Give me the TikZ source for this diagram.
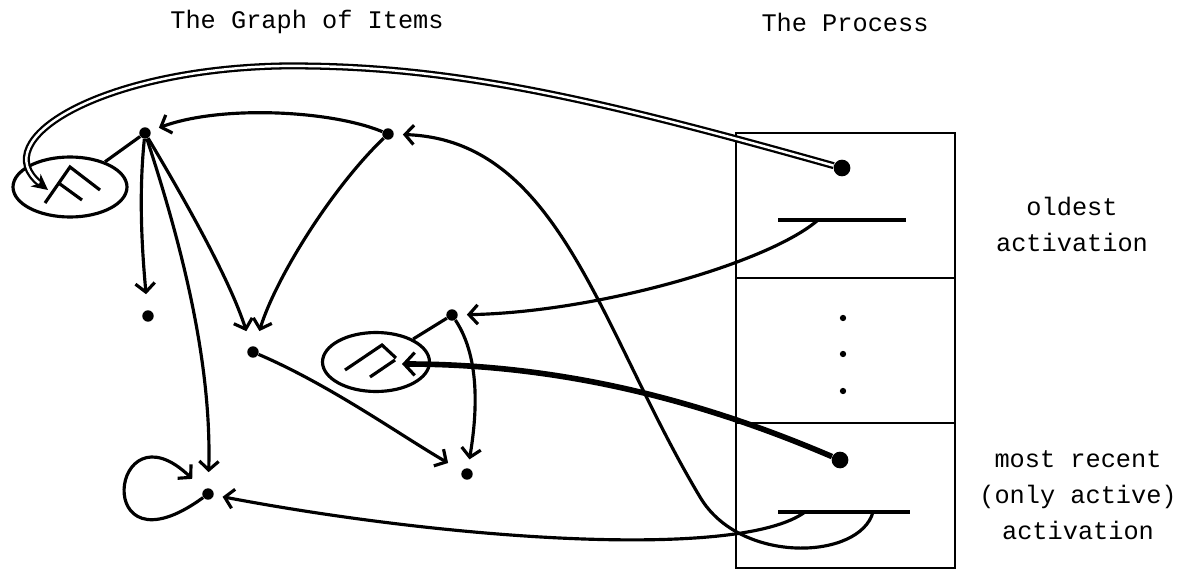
\documentclass[tikz,border=0pt]{standalone}
\usepackage{fontspec}
\setmonofont{Liberation Mono}
\usetikzlibrary{arrows.meta,positioning,shapes.geometric}

\begin{document}
\begin{tikzpicture}[
    x=0.02cm, y=-0.02cm,
    caption/.style={
      align=center,
      font=\ttfamily\fontsize{14.4}{20.5}\selectfont
    },
    item/.style={
      circle,
      fill=black,
      inner sep=0pt,
      minimum size=6.5pt
    },
    bigitem/.style={
      circle,
      fill=black,
      inner sep=0pt,
      minimum size=9.5pt
    },
    env/.style={
      ellipse,
      draw,
      line width=1.8pt,
      inner sep=0pt
    },
    cell/.style={
      rectangle,
      draw,
      line width=1.6pt,
      outer sep=0pt,
      minimum width=4.38cm,
      minimum height=2.9cm
    },
    bar/.style={line width=2.2pt},
    tie/.style={line width=1.8pt},
    arrow/.style={-{Straight Barb[length=5pt,width=11pt]}, line width=1.8pt, shorten >=5pt},
    hollow/.style={-{Stealth[length=9pt,width=9pt]}, double, double distance=1.4pt, line width=1.3pt},
    heavy/.style={-{Straight Barb[length=6pt,width=13pt,line width=1.8pt]}, line width=3.2pt}
  ]
    \useasboundingbox (0,0) rectangle (1185,571);

    % titles
    \node[caption] (graphtitle) at (307,22) {The Graph of Items};
    \node[caption] (proctitle) at (845,22) {The Process};

    % the process
    \node[cell] (oldest) at (845.5,205.5) {};
    \node[cell, below=0pt of oldest] (middle) {};
    \node[cell, below=0pt of middle] (recent) {};
    \node[caption] (oldnote) at (1072,224) {oldest\\activation};
    \node[caption] (recentnote) at (1078,495) {most recent\\(only active)\\activation};

    \foreach \y in {318,354,391}
      \fill (843,\y) circle (1.8pt);

    \node[bigitem] (olddot) at (842,168) {};
    \node[bigitem] (recentdot) at (840,460) {};
    \draw[bar] (778,220) -- (906,220);
    \draw[bar] (778,512) -- (910,512);
    \coordinate (oldtap) at (818,220);
    \coordinate (recenttap) at (805,512);
    \coordinate (returntap) at (873,512);

    % the graph of items
    \node[item] (hub) at (145,133) {};
    \node[item] (peer) at (388,134) {};
    \node[item] (stub) at (148,316) {};
    \node[item] (merge) at (253,352) {};
    \node[item] (branch) at (452,315) {};
    \node[item] (sink) at (467,474) {};
    \node[item] (cycle) at (208,494) {};

    \node[env, minimum width=2.28cm, minimum height=1.2cm] (envold) at (70,187) {};
    \node[env, minimum width=2.14cm, minimum height=1.18cm] (envnew) at (376,362) {};
    \draw[tie] (45,203) -- (70,167) -- (100,190) (60,184) -- (82,200);
    \draw[tie] (345,370) -- (382,345) -- (396,358) (370,377) -- (395,360);
    \coordinate (oldtip) at (48,190);
    \coordinate (newtip) at (402,364);

    \draw[tie] (hub) -- (envold);
    \draw[tie] (branch) -- (envnew);

    \draw[arrow] (peer) .. controls (330,110) and (220,105) .. (hub);
    \draw[arrow, shorten >=9pt] (hub) .. controls (138,200) and (143,260) .. (stub);
    \draw[arrow, shorten >=9pt] (hub) .. controls (185,200) and (230,280) .. (merge);
    \draw[arrow, shorten >=9pt] (peer) .. controls (330,190) and (275,280) .. (merge);
    \draw[arrow, shorten >=9pt] (hub) .. controls (180,240) and (212,360) .. (cycle);
    \draw[arrow, shorten >=9pt] (cycle) .. controls (90,580) and (110,400) .. (cycle);
    \draw[arrow, shorten >=9pt] (merge) .. controls (330,385) and (400,435) .. (sink);
    \draw[arrow] (branch) .. controls (482,360) and (476,420) .. (sink);

    % references from the process
    \draw[hollow] (olddot) .. controls (600,100) and (450,64) .. (280,66)
      .. controls (100,70) and (-15,140) .. (oldtip);
    \draw[heavy] (recentdot) .. controls (700,400) and (560,364) .. (newtip);
    \draw[arrow] (oldtap) .. controls (770,262) and (600,312) .. (branch);
    \draw[arrow] (recenttap) .. controls (740,560) and (450,540) .. (cycle);
    \draw[arrow] (returntap) .. controls (860,560) and (740,565) .. (700,497)
      .. controls (600,330) and (560,140) .. (peer);
  \end{tikzpicture}
\end{document}
